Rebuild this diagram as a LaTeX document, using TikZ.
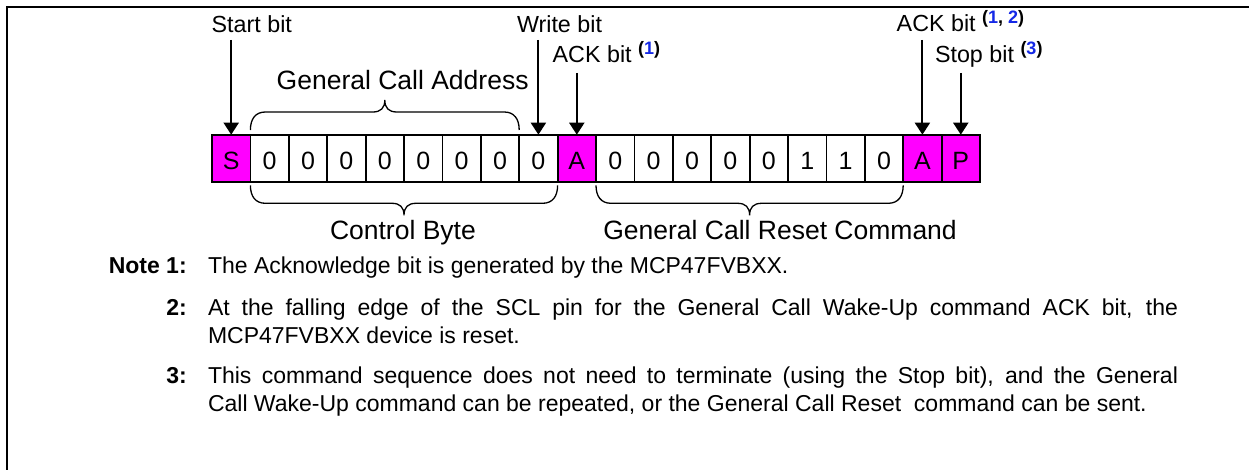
\documentclass[tikz,border=0pt]{standalone}
\usepackage{fontspec}
\setmainfont{Liberation Sans}
\usetikzlibrary{arrows.meta,calc}
\definecolor{mag}{RGB}{255,0,255}
\definecolor{refblue}{RGB}{20,40,230}
\newcommand\supsc[1]{\ {\fontsize{18}{18}\selectfont\bfseries\raisebox{8.5pt}{#1}}}
% #1 start coordinate, #2 end coordinate, #3 = 1 (opens downward) or -1 (opens upward)
\newcommand\hbrace[3]{%
 \draw[brc] let \p1=(#1), \p2=(#2), \p3=($(#1)!0.5!(#2)$) in
  (\x1,\y1) .. controls (\x1,{\y1-(#3)*11pt}) and ({\x1+5pt},{\y1-(#3)*18pt}) .. ({\x1+15pt},{\y1-(#3)*18pt})
  -- ({\x3-12pt},{\y1-(#3)*18pt}) .. controls ({\x3-4pt},{\y1-(#3)*18pt}) and (\x3,{\y1-(#3)*22pt}) .. (\x3,{\y1-(#3)*30pt})
  .. controls (\x3,{\y1-(#3)*22pt}) and ({\x3+4pt},{\y1-(#3)*18pt}) .. ({\x3+12pt},{\y1-(#3)*18pt})
  -- ({\x2-15pt},{\y1-(#3)*18pt}) .. controls ({\x2-5pt},{\y1-(#3)*18pt}) and (\x2,{\y1-(#3)*11pt}) .. (\x2,\y1);%
}
\begin{document}
\begin{tikzpicture}[x=1pt,y=-1pt,
  cell/.style={draw,line width=1.8pt,minimum width=38.4pt,minimum height=47.6pt,inner sep=0pt,outer sep=0pt,
    text height=25pt,text depth=2pt,font=\fontsize{25}{28}\selectfont},
  bitm/.style={cell,fill=mag},
  lbl/.style={inner sep=0pt,outer sep=0pt,anchor=base west,font=\fontsize{23.3}{26}\selectfont},
  blbl/.style={lbl,font=\fontsize{26.5}{30}\selectfont},
  note/.style={inner sep=0pt,outer sep=0pt,anchor=base west,font=\fontsize{23}{28}\selectfont},
  notenum/.style={inner sep=0pt,outer sep=0pt,anchor=base east,font=\fontsize{23}{28}\selectfont\bfseries},
  arr/.style={line width=2pt,-{Triangle[length=12pt,width=15pt]}},
  brc/.style={line width=1.3pt},
  frame/.style={line width=2.2pt}
]
\useasboundingbox (0,0) rectangle (1249,470);
\draw[frame] (7,475) -- (7,7) -- (1255,7);

% bit cells
\foreach \t/\s [count=\i from 0] in {S/bitm,0/cell,0/cell,0/cell,0/cell,0/cell,0/cell,0/cell,0/cell,A/bitm,
  0/cell,0/cell,0/cell,0/cell,0/cell,1/cell,1/cell,0/cell,A/bitm,P/bitm}
  \node[\s] (c\i) at ({231.2+38.4*\i},158.5) {\t};

% top labels
\node[lbl] (startlbl) at (211.7,33) {Start bit};
\node[lbl] (writelbl) at (517,33) {Write bit};
\node[lbl] (ackalbl) at (552.7,63) {ACK bit\supsc{(\textcolor{refblue}{1})}};
\node[lbl] (ackblbl) at (896.7,32) {ACK bit\supsc{(\textcolor{refblue}{1}, \textcolor{refblue}{2})}};
\node[lbl] (stoplbl) at (935,63) {Stop bit\supsc{(\textcolor{refblue}{3})}};

% arrows
\coordinate (sa) at (c0.north |- 0,40);
\coordinate (wa) at (c8.north |- 0,40);
\coordinate (aa) at (c9.north |- 0,73);
\coordinate (ab) at (c18.north |- 0,40);
\coordinate (pa) at (c19.north |- 0,73);
\draw[arr] (sa) -- (c0.north);
\draw[arr] (wa) -- (c8.north);
\draw[arr] (aa) -- (c9.north);
\draw[arr] (ab) -- (c18.north);
\draw[arr] (pa) -- (c19.north);

% braces
\coordinate (gaL) at ($(c1.north west)+(0,-4.7)$);
\coordinate (gaR) at ($(c7.north east)+(0,-4.7)$);
\coordinate (cbL) at ($(c1.south west)+(0,3)$);
\coordinate (cbR) at ($(c8.south east)+(0,3)$);
\coordinate (grL) at ($(c10.south west)+(0,3)$);
\coordinate (grR) at ($(c17.south east)+(0,3)$);
\hbrace{gaL}{gaR}{-1}
\hbrace{cbL}{cbR}{1}
\hbrace{grL}{grR}{1}

\node[blbl] (galbl) at (276.7,90) {General Call Address};
\node[blbl] (cblbl) at (330,240) {Control Byte};
\node[blbl] (grlbl) at (603.3,240) {General Call Reset Command};

% notes
\node[notenum] (n1num) at (186.7,273) {Note 1:};
\node[note] (n1) at (208,273) {The Acknowledge bit is generated by the MCP47FVBXX.};
\node[notenum] (n2num) at (186.7,315) {2:};
\node[note] (n2a) at (208,315) {\makebox[970pt][s]{At the falling edge of the SCL pin for the General Call Wake-Up command ACK bit, the}};
\node[note] (n2b) at (208,343) {MCP47FVBXX device is reset.};
\node[notenum] (n3num) at (186.7,383) {3:};
\node[note] (n3a) at (208,383) {\makebox[970pt][s]{This command sequence does not need to terminate (using the Stop bit), and the General}};
\node[note] (n3b) at (208,411) {Call Wake-Up command can be repeated, or the General Call Reset~ command can be sent.};
\end{tikzpicture}
\end{document}
